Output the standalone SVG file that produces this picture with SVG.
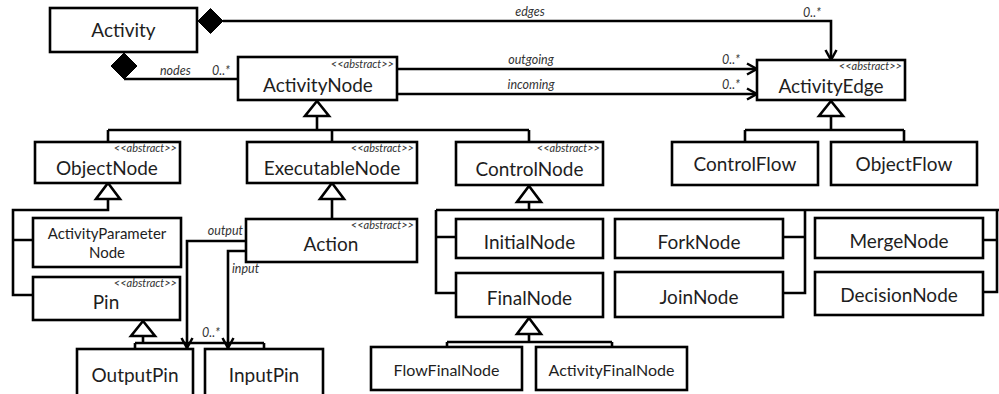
<svg xmlns="http://www.w3.org/2000/svg" width="999" height="394" viewBox="0 0 999 394">
<style>
  .box { fill: #fff; stroke: #000; stroke-width: 2.6; }
  .ln { fill: none; stroke: #000; stroke-width: 2.6; }
  .tri { fill: #fff; stroke: #000; stroke-width: 2.6; stroke-linejoin: miter; }
  .dia { fill: #000; stroke: #000; stroke-width: 1; }
  .nm { font-family: Lato, "Liberation Sans", sans-serif; fill: #1e1e1e; text-anchor: middle; font-size: 19px; }
  .sm { font-size: 15px; }
  .fn { font-size: 16px; }
  .md { font-size: 19px; }
  .abs { font-family: Lato, "Liberation Sans", sans-serif; font-style: italic; font-size: 11px; fill: #333; text-anchor: end; }
  .lbl { font-family: Lato, "Liberation Sans", sans-serif; font-style: italic; font-size: 12.5px; fill: #333; }
</style>
<defs>
  <marker id="open" markerUnits="userSpaceOnUse" markerWidth="14" markerHeight="14" viewBox="0 0 14 14" refX="12" refY="7" orient="auto">
    <path d="M2,1.5 L12,7 L2,12.5" fill="none" stroke="#000" stroke-width="2.5"/>
  </marker>
</defs>

<g id="connectors">
  <!-- composition Activity -> ActivityEdge (edges) -->
  <polygon class="dia" points="198,21 210.5,8.5 223,21 210.5,33.5"/>
  <path class="ln" d="M223,21 H831 V60" marker-end="url(#open)"/>
  <text class="lbl" x="530" y="16" text-anchor="middle">edges</text>
  <text class="lbl" x="803" y="17">0..*</text>

  <!-- composition Activity -> ActivityNode (nodes) -->
  <polygon class="dia" points="124,53 137,66 124,79 111,66"/>
  <path class="ln" d="M124,79 H238"/>
  <text class="lbl" x="160" y="75">nodes</text>
  <text class="lbl" x="212" y="75">0..*</text>

  <!-- outgoing / incoming -->
  <path class="ln" d="M397,69 H757" marker-end="url(#open)"/>
  <text class="lbl" x="531" y="64" text-anchor="middle">outgoing</text>
  <text class="lbl" x="722" y="64">0..*</text>
  <path class="ln" d="M397,94 H757" marker-end="url(#open)"/>
  <text class="lbl" x="531" y="89" text-anchor="middle">incoming</text>
  <text class="lbl" x="722" y="89">0..*</text>

  <!-- ActivityNode generalization -->
  <path class="ln" d="M317,116 V130 M108,130 H529 M108,130 V142 M332,130 V142 M529,130 V142"/>
  <polygon class="tri" points="317,101 329,116 305,116"/>

  <!-- ActivityEdge generalization -->
  <path class="ln" d="M831,116 V130 M745,130 H904 M745,130 V142 M904,130 V142"/>
  <polygon class="tri" points="831,101 843,116 819,116"/>

  <!-- ObjectNode generalization -->
  <path class="ln" d="M108,199 V210 H13 V295 H33 M13,240 H33"/>
  <polygon class="tri" points="108,183 120,199 96,199"/>

  <!-- ExecutableNode generalization -->
  <path class="ln" d="M332,199 V219"/>
  <polygon class="tri" points="332,183 344,199 320,199"/>

  <!-- ControlNode generalization -->
  <path class="ln" d="M529,202 V210 M436,210 H999 M436,210 V293 H456 M436,237 H456 M805,210 V293 H783 M783,237 H805 M997,210 V292 H983 M983,240 H997"/>
  <polygon class="tri" points="529,186 541,202 517,202"/>

  <!-- Pin generalization -->
  <path class="ln" d="M143,336 V343 M135,343 H264 M135,343 V349 M264,343 V349"/>
  <polygon class="tri" points="143,321 155,336 131,336"/>

  <!-- output / input -->
  <path class="ln" d="M246,241 H187 V348" marker-end="url(#open)"/>
  <text class="lbl" x="243" y="235" text-anchor="end">output</text>
  <path class="ln" d="M246,251 H228 V348" marker-end="url(#open)"/>
  <text class="lbl" x="232" y="273">input</text>
  <text class="lbl" x="202" y="337">0..*</text>

  <!-- FinalNode generalization -->
  <path class="ln" d="M529,334 V342 M447,342 H612 M447,342 V347 M612,342 V347"/>
  <polygon class="tri" points="529,318 541,334 517,334"/>
</g>

<g id="Activity">
  <rect class="box" x="50" y="8" width="147" height="44"/>
  <text class="nm" x="123.5" y="37">Activity</text>
</g>
<g id="ActivityNode">
  <rect class="box" x="238" y="57" width="159" height="43"/>
  <text class="abs" x="394" y="68">&lt;&lt;abstract&gt;&gt;</text>
  <text class="nm" x="318" y="92">ActivityNode</text>
</g>
<g id="ActivityEdge">
  <rect class="box" x="757" y="60" width="148" height="40"/>
  <text class="abs" x="902" y="70">&lt;&lt;abstract&gt;&gt;</text>
  <text class="nm" x="831" y="93">ActivityEdge</text>
</g>
<g id="ObjectNode">
  <rect class="box" x="35" y="142" width="145" height="41"/>
  <text class="abs" x="177" y="152">&lt;&lt;abstract&gt;&gt;</text>
  <text class="nm" x="107" y="175">ObjectNode</text>
</g>
<g id="ExecutableNode">
  <rect class="box" x="247" y="142" width="170" height="41"/>
  <text class="abs" x="414" y="152">&lt;&lt;abstract&gt;&gt;</text>
  <text class="nm" x="332" y="175">ExecutableNode</text>
</g>
<g id="ControlNode">
  <rect class="box" x="456" y="142" width="147" height="43"/>
  <text class="abs" x="600" y="152">&lt;&lt;abstract&gt;&gt;</text>
  <text class="nm" x="529.5" y="176">ControlNode</text>
</g>
<g id="ControlFlow">
  <rect class="box" x="672" y="142" width="146" height="43"/>
  <text class="nm md" x="745" y="171">ControlFlow</text>
</g>
<g id="ObjectFlow">
  <rect class="box" x="831" y="142" width="146" height="43"/>
  <text class="nm md" x="904" y="171">ObjectFlow</text>
</g>
<g id="ActivityParameterNode">
  <rect class="box" x="33" y="218" width="148" height="49"/>
  <text class="nm sm" x="107" y="239">ActivityParameter</text>
  <text class="nm sm" x="107" y="258">Node</text>
</g>
<g id="Action">
  <rect class="box" x="246" y="219" width="171" height="43"/>
  <text class="abs" x="414" y="229">&lt;&lt;abstract&gt;&gt;</text>
  <text class="nm" x="331" y="251">Action</text>
</g>
<g id="Pin">
  <rect class="box" x="33" y="277" width="147" height="43"/>
  <text class="abs" x="177" y="287">&lt;&lt;abstract&gt;&gt;</text>
  <text class="nm" x="106" y="309">Pin</text>
</g>
<g id="OutputPin">
  <rect class="box" x="77" y="349" width="116" height="48"/>
  <text class="nm" x="135" y="382">OutputPin</text>
</g>
<g id="InputPin">
  <rect class="box" x="205" y="349" width="118" height="48"/>
  <text class="nm" x="264" y="382">InputPin</text>
</g>
<g id="InitialNode">
  <rect class="box" x="456" y="219" width="147" height="39"/>
  <text class="nm" x="529.5" y="249">InitialNode</text>
</g>
<g id="FinalNode">
  <rect class="box" x="456" y="273" width="147" height="44"/>
  <text class="nm" x="529.5" y="305">FinalNode</text>
</g>
<g id="ForkNode">
  <rect class="box" x="615" y="219" width="168" height="39"/>
  <text class="nm" x="699" y="249">ForkNode</text>
</g>
<g id="JoinNode">
  <rect class="box" x="615" y="272" width="168" height="45"/>
  <text class="nm" x="699" y="304">JoinNode</text>
</g>
<g id="MergeNode">
  <rect class="box" x="815" y="218" width="168" height="40"/>
  <text class="nm" x="899" y="248">MergeNode</text>
</g>
<g id="DecisionNode">
  <rect class="box" x="815" y="272" width="168" height="43"/>
  <text class="nm" x="899" y="302">DecisionNode</text>
</g>
<g id="FlowFinalNode">
  <rect class="box" x="371" y="347" width="151" height="43"/>
  <text class="nm fn" x="446.5" y="376">FlowFinalNode</text>
</g>
<g id="ActivityFinalNode">
  <rect class="box" x="536" y="347" width="151" height="43"/>
  <text class="nm fn" x="611.5" y="376">ActivityFinalNode</text>
</g>
</svg>
